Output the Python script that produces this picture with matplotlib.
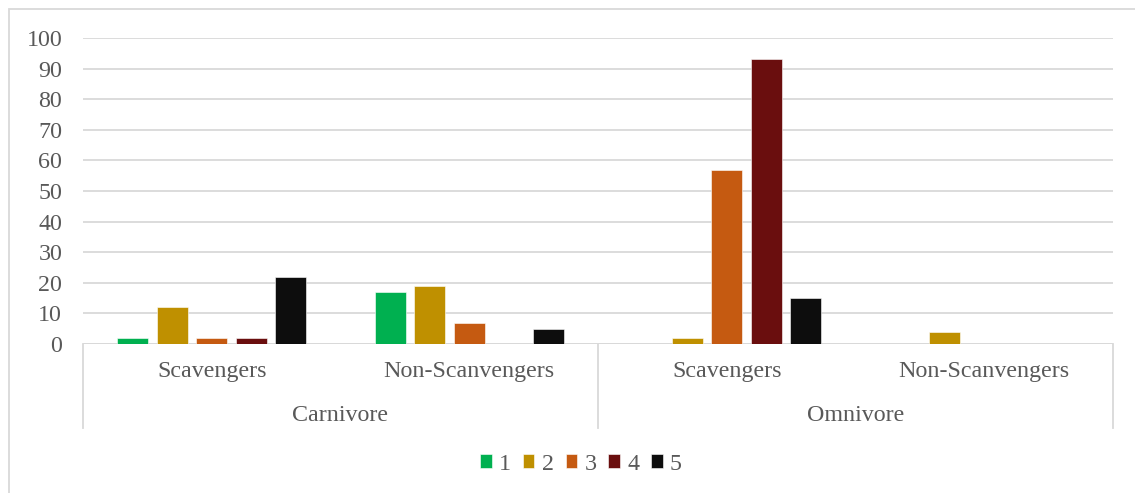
import numpy as np
import matplotlib.pyplot as plt
from matplotlib.patches import Rectangle

# categories and series
groups = ['Carnivore', 'Omnivore']
subgroups = ['Scavengers', 'Non-Scanvengers']
series = ['1', '2', '3', '4', '5']
colors = ['#00b050', '#bf9000', '#c55a11', '#6a0e0e', '#0d0d0d']

# one row per series, columns: Carnivore/Scav, Carnivore/Non, Omnivore/Scav, Omnivore/Non
values = [
    [2, 17, 0, 0],
    [12, 19, 2, 4],
    [2, 7, 57, 0],
    [2, 0, 93, 0],
    [22, 5, 15, 0],
]

text_color = '#595959'
grid_color = '#d9d9d9'
fs = 17.3

plt.rcParams['font.family'] = ['Liberation Serif', 'DejaVu Serif']

fig = plt.figure(figsize=(11.35, 4.93), dpi=100)
ax = fig.add_axes([83 / 1135, 149 / 493, 1030 / 1135, 306 / 493])

n_cat = len(groups) * len(subgroups)
x = np.arange(n_cat)
step = 0.1534
width = 0.12
for i, (name, vals) in enumerate(zip(series, values)):
    ax.bar(x + (i - 2) * step, vals, width, color=colors[i], label=name,
           edgecolor='white', linewidth=0.4, zorder=3)

ax.set_xlim(-0.5, n_cat - 0.5)
ax.set_ylim(0, 100)
ax.set_yticks(np.arange(0, 101, 10))
ax.yaxis.grid(True, color=grid_color, linewidth=1.3)
ax.set_axisbelow(True)
ax.tick_params(axis='y', length=0, pad=15, labelsize=fs, labelcolor=text_color)
ax.set_xticks([])
for s in ax.spines.values():
    s.set_visible(False)

# multi-level category axis
ax.axhline(0, color=grid_color, linewidth=1.3, zorder=2)
depth = -0.2745
for xs in [-0.5, 1.5, 3.5]:
    ax.plot([xs, xs], [0, depth], transform=ax.get_xaxis_transform(),
            color=grid_color, linewidth=1.3, clip_on=False)
for k in range(n_cat):
    ax.text(k, -0.091, subgroups[k % 2], transform=ax.get_xaxis_transform(),
            ha='center', va='center', fontsize=fs, color=text_color)
for g, name in enumerate(groups):
    ax.text(2 * g + 0.5, -0.235, name, transform=ax.get_xaxis_transform(),
            ha='center', va='center', fontsize=fs, color=text_color)

leg = fig.legend(loc='center', bbox_to_anchor=(581 / 1135, 29 / 493), ncol=5,
                 frameon=False, fontsize=fs, handlelength=0.48, handleheight=0.48,
                 handletextpad=0.3, columnspacing=0.5, borderaxespad=0)
for t in leg.get_texts():
    t.set_color(text_color)

# chart area border
fig.patches.append(Rectangle((9 / 1135, -0.05), 1.2, (484 / 493) + 0.05,
                             transform=fig.transFigure, fill=False,
                             edgecolor=grid_color, linewidth=1.3))

fig.savefig('out.png', dpi=100)
